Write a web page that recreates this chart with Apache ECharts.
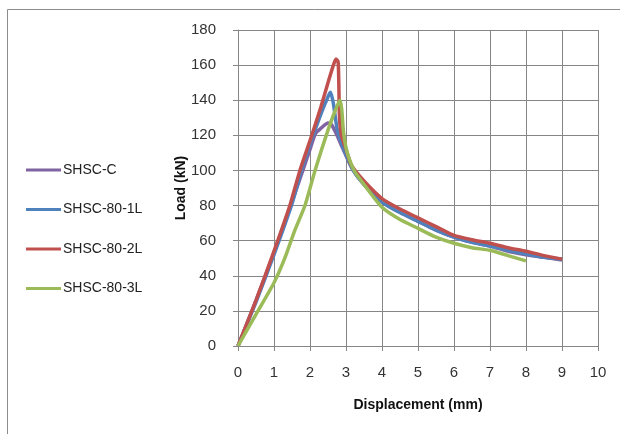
<!DOCTYPE html>
<html>
<head>
<meta charset="utf-8">
<script src="https://cdn.jsdelivr.net/npm/echarts@6/dist/echarts.min.js"></script>
<style>html,body{margin:0;padding:0;background:#fff;}#c{width:620px;height:434px;}</style>
</head>
<body>
<div id="c"></div>
<script>
const seriesNames = ['SHSC-C', 'SHSC-80-1L', 'SHSC-80-2L', 'SHSC-80-3L'];
const xTicks = [0,1,2,3,4,5,6,7,8,9,10];
const yTicks = [0,20,40,60,80,100,120,140,160,180];

const shscC = [[0,0],[0.5,26],[1,53],[1.5,82],[2,112],[2.15,121],[2.3,124],[2.5,127],[2.6,126],[2.75,120],[2.9,113],[3.1,104],[3.3,97],[3.6,90],[4,82],[4.5,76],[5,71],[5.5,66],[6,62],[6.5,59],[7,57],[7.5,54],[8,52],[8.5,50.5],[9,49]];
const shsc1L = [[0,0],[0.5,25],[1,52],[1.5,81],[1.76,100],[2,115],[2.3,132],[2.5,142],[2.57,144.5],[2.65,138],[2.75,124],[2.85,117],[3,109],[3.2,100],[3.5,92],[4,82],[4.5,76],[5,71],[5.5,66],[6,62],[6.5,59],[7,57],[7.5,54.5],[8,52.5],[8.5,50.5],[9,49.5]];
const shsc2L = [[0,0],[0.5,26],[1,54],[1.44,80],[1.72,100],[2.05,120],[2.3,136],[2.5,150],[2.65,160],[2.72,163.5],[2.78,162],[2.8,150],[2.82,130],[2.87,120],[3,112],[3.15,103],[3.5,94],[4,84],[4.5,78],[5,73],[5.5,68],[6,63],[6.5,60.5],[7,58.5],[7.5,56],[8,54],[8.5,51.5],[9,49.5]];
const shsc3L = [[0,0],[0.5,18],[1,36],[1.3,50],[1.58,66],[1.86,80],[2.14,100],[2.5,123],[2.7,134],[2.83,140],[2.88,135],[2.93,122],[3,113],[3.1,106],[3.25,99],[3.5,92],[4,79],[4.5,72],[5,67],[5.5,62],[6,58.5],[6.5,56],[7,54.5],[7.5,51.5],[8,48.5]];

const colors = ['#8064A2', '#4F81BD', '#C0504D', '#9BBB59'];
const allData = [shscC, shsc1L, shsc2L, shsc3L];
const font = 'Liberation Sans';

const chart = echarts.init(document.getElementById('c'), null, {renderer: 'canvas'});
chart.setOption({
  animation: false,
  backgroundColor: '#fff',
  color: colors,
  graphic: [{
    type: 'rect', left: 5, top: 7, silent: true, z: -1,
    shape: {width: 640, height: 460},
    style: {fill: 'none', stroke: '#8c8c8c', lineWidth: 1}
  }],
  legend: {
    orient: 'vertical', left: 21, top: 157,
    itemWidth: 35, itemHeight: 3, itemGap: 23.5,
    icon: 'rect',
    data: seriesNames,
    textStyle: {fontFamily: font, fontSize: 14, color: '#222', lineHeight: 16, padding: [0,0,0,-3]}
  },
  grid: {left: 238, right: 22, top: 30, bottom: 88, containLabel: false},
  xAxis: {
    type: 'value', min: xTicks[0], max: xTicks[xTicks.length-1], interval: 1,
    name: 'Displacement (mm)', nameLocation: 'middle', nameGap: 52, nameMoveOverlap: false,
    nameTextStyle: {fontFamily: font, fontSize: 14, fontWeight: 'bold', color: '#111'},
    axisLine: {show: true, lineStyle: {color: '#868686', width: 1}},
    axisTick: {show: true, length: 5, lineStyle: {color: '#868686'}},
    axisLabel: {fontFamily: font, fontSize: 15, color: '#333', margin: 19},
    splitLine: {show: true, lineStyle: {color: '#868686', width: 1}}
  },
  yAxis: {
    type: 'value', min: yTicks[0], max: yTicks[yTicks.length-1], interval: 20,
    name: 'Load (kN)', nameLocation: 'middle', nameGap: 50, nameMoveOverlap: false,
    nameTextStyle: {fontFamily: font, fontSize: 14, fontWeight: 'bold', color: '#111'},
    axisLine: {show: true, lineStyle: {color: '#868686', width: 1}},
    axisTick: {show: true, length: 5, lineStyle: {color: '#868686'}},
    axisLabel: {fontFamily: font, fontSize: 15, color: '#333', margin: 22},
    splitLine: {show: true, lineStyle: {color: '#868686', width: 1}}
  },
  series: seriesNames.map((n, i) => ({
    name: n, type: 'line', data: allData[i],
    showSymbol: false, symbol: 'none', smooth: 0.2,
    lineStyle: {width: 3.5, color: colors[i]},
    itemStyle: {color: colors[i]}
  }))
});
</script>
</body>
</html>
